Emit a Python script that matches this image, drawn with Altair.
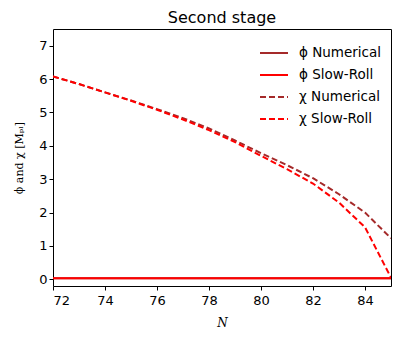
import altair as alt
import pandas as pd

N = [72, 73, 74, 75, 76, 77, 78, 79, 80, 81, 82, 83, 84, 85]
chi_num = [6.08, 5.85, 5.6, 5.36, 5.1, 4.83, 4.52, 4.16, 3.78, 3.42, 3.03, 2.55, 2.0, 1.23]
chi_sr = [6.08, 5.85, 5.6, 5.35, 5.08, 4.79, 4.47, 4.11, 3.7, 3.3, 2.87, 2.3, 1.56, 0.05]
phi_num = [0.03] * len(N)
phi_sr = [0.03] * len(N)

labels = ["ϕ Numerical", "ϕ Slow-Roll", "χ Numerical", "χ Slow-Roll"]
colors = ["#a52a2a", "#ff0000", "#a52a2a", "#ff0000"]
dashes = [[1, 0], [1, 0], [6, 3], [6, 3]]

rows = []
for lab, vals in zip(labels, [phi_num, phi_sr, chi_num, chi_sr]):
    for n, v in zip(N, vals):
        rows.append({"N": n, "v": v, "series": lab})
df = pd.DataFrame(rows)

legend = alt.Legend(title=None, orient="top-right", symbolType="stroke",
                    symbolStrokeWidth=2, symbolSize=784, labelFontSize=13.5,
                    labelFont="DejaVu Sans", labelColor="black", rowPadding=-6,
                    labelOffset=10, offset=9)

chart = alt.Chart(df).mark_line(strokeWidth=2, clip=True).encode(
    x=alt.X("N:Q", scale=alt.Scale(domain=[72, 85], nice=False),
            axis=alt.Axis(values=list(range(72, 85, 2)), title="N",
                          titleFont="DejaVu Serif", titleFontStyle="italic",
                          titleFontWeight="normal", titleFontSize=12, titlePadding=10,
                          labelPadding=4)),
    y=alt.Y("v:Q", scale=alt.Scale(domain=[-0.2, 7.5], nice=False, zero=False),
            axis=alt.Axis(values=list(range(0, 8)), title="ϕ and χ [Mₚₗ]",
                          titleFont="DejaVu Serif", titleFontWeight="normal",
                          titleFontSize=11, titlePadding=14)),
    color=alt.Color("series:N", scale=alt.Scale(domain=labels, range=colors), legend=legend),
    strokeDash=alt.StrokeDash("series:N", scale=alt.Scale(domain=labels, range=dashes), legend=legend),
    order=alt.Order("N:Q"),
).properties(
    width=338, height=257,
    padding={"left": 5, "top": 2, "right": 5, "bottom": 5},
    title=alt.Title("Second stage", font="DejaVu Sans", fontSize=16, fontWeight="normal",
                    color="black", offset=3),
).configure_view(
    stroke="black", strokeWidth=1
).configure_axis(
    grid=False, domain=False, tickColor="black", tickSize=4,
    labelFont="DejaVu Sans", labelFontSize=13, labelColor="black", titleColor="black",
)

chart.save("out.html", embed_options={"renderer": "svg", "actions": False})
